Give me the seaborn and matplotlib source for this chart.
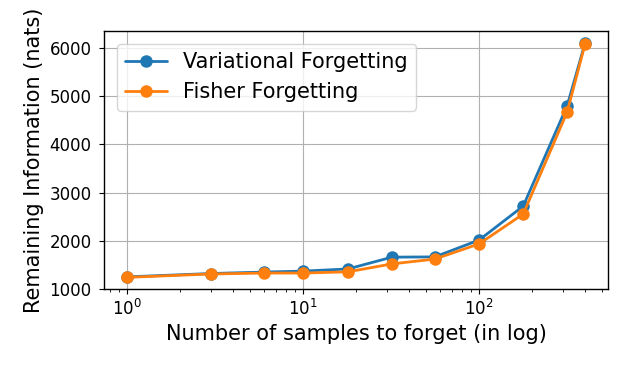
import numpy as np
import pandas as pd
import seaborn as sns
import matplotlib.pyplot as plt

samples = [1, 3, 6, 10, 18, 32, 56, 100, 178, 316, 400]
variational = [1250, 1320, 1350, 1370, 1415, 1660, 1665, 2015, 2720, 4800, 6110]
fisher = [1240, 1310, 1330, 1330, 1355, 1520, 1620, 1935, 2555, 4670, 6090]
methods = ['Variational Forgetting', 'Fisher Forgetting']

df = pd.DataFrame({
    'samples': samples * 2,
    'info': variational + fisher,
    'method': [methods[0]] * len(samples) + [methods[1]] * len(samples),
})

sns.set_style('ticks', {'axes.edgecolor': 'black', 'text.color': 'black',
                        'axes.labelcolor': 'black', 'xtick.color': 'black',
                        'ytick.color': 'black'})
plt.rcParams['font.family'] = ['DejaVu Sans']
fig = plt.figure(figsize=(6.23, 3.74), dpi=100)
ax = fig.add_axes([0.167, 0.227, 0.809, 0.69])
sns.lineplot(data=df, x='samples', y='info', hue='method', hue_order=methods,
             palette=['#1f77b4', '#ff7f0e'], marker='o', markersize=9,
             markeredgewidth=0, linewidth=2, ax=ax)
ax.set_xscale('log')
ax.grid(True, which='major', color='#b0b0b0', linewidth=0.8)
for s in ax.spines.values():
    s.set_linewidth(1.0)
    s.set_color('black')
ax.set_xlabel('Number of samples to forget (in log)', fontsize=15)
ax.set_ylabel('Remaining Information (nats)', fontsize=15)
ax.tick_params(which='major', labelsize=12, length=3.5, width=0.8,
               direction='out', colors='black')
ax.tick_params(axis='y', which='major', pad=5.5)
ax.tick_params(which='minor', length=2, width=0.6, direction='out', colors='black')
ax.set_yticks([1000, 2000, 3000, 4000, 5000, 6000])
ax.legend(title=None, fontsize=15, loc='upper left', borderaxespad=0.6)
fig.savefig('out.png', dpi=100)
